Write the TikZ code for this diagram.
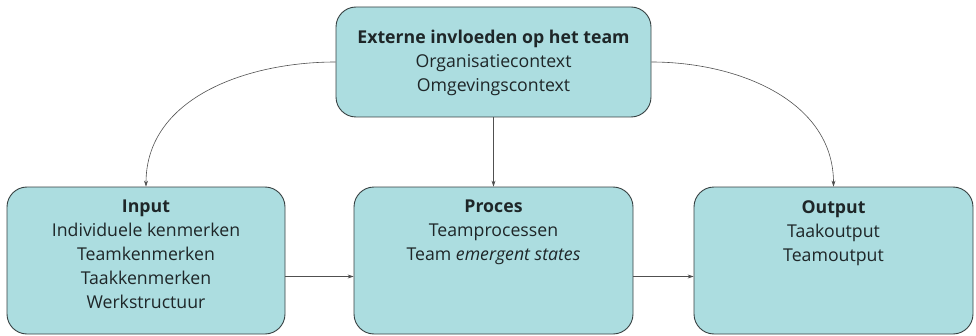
\documentclass[tikz,border=0pt]{standalone}
\usepackage{fontspec}
\setmainfont{Open Sans}
\usetikzlibrary{arrows.meta}
\definecolor{boxfill}{RGB}{172,221,224}
\definecolor{boxline}{RGB}{55,65,66}
\definecolor{txt}{RGB}{30,38,40}
\definecolor{arr}{RGB}{80,80,80}
\tikzset{
  box/.style={draw=boxline, fill=boxfill, line width=0.9pt, rounded corners=20pt, inner sep=0pt},
  lbl/.style={align=center, text=txt, font=\fontsize{17.7}{24}\selectfont, inner sep=0pt},
  conn/.style={draw=arr, line width=0.6pt, -{Stealth[length=6pt,width=4pt]}}
}
\begin{document}
\begin{tikzpicture}[x=1pt,y=1pt]
\useasboundingbox (0,0) rectangle (976,335);
% boxes (y = 335 - pixel y)
\node[box, minimum width=315pt, minimum height=110pt] (ext) at (493.5,273) {};
\node[box, minimum width=278pt, minimum height=147pt] (inp) at (146,74.5) {};
\node[box, minimum width=279pt, minimum height=147pt] (proc) at (493.5,74.5) {};
\node[box, minimum width=279pt, minimum height=147pt] (outp) at (833.5,74.5) {};
% texts
\node[lbl, yshift=-1pt] (extT) at (ext.center) {\textbf{Externe invloeden op het team}\\Organisatiecontext\\Omgevingscontext};
\node[lbl, anchor=north] (inpT) at ([yshift=-13.5pt]inp.north) {\textbf{Input}\\Individuele kenmerken\\Teamkenmerken\\Taakkenmerken\\Werkstructuur};
\node[lbl, anchor=north] (procT) at ([yshift=-13.5pt]proc.north) {\textbf{Proces}\\Teamprocessen\\Team \textit{emergent states}};
\node[lbl, anchor=north] (outpT) at ([yshift=-13.5pt]outp.north) {\textbf{Output}\\Taakoutput\\Teamoutput};
% connectors
\draw[conn] (ext.west) to[out=180, in=90] (inp.north);
\draw[conn] (ext.east) to[out=0, in=90] (outp.north);
\draw[conn] (ext.south) -- (proc.north);
\draw[conn] ([yshift=-16pt]inp.east) -- ([yshift=-16pt]proc.west);
\draw[conn] ([yshift=-16pt]proc.east) -- ([yshift=-16pt]outp.west);
\end{tikzpicture}
\end{document}
